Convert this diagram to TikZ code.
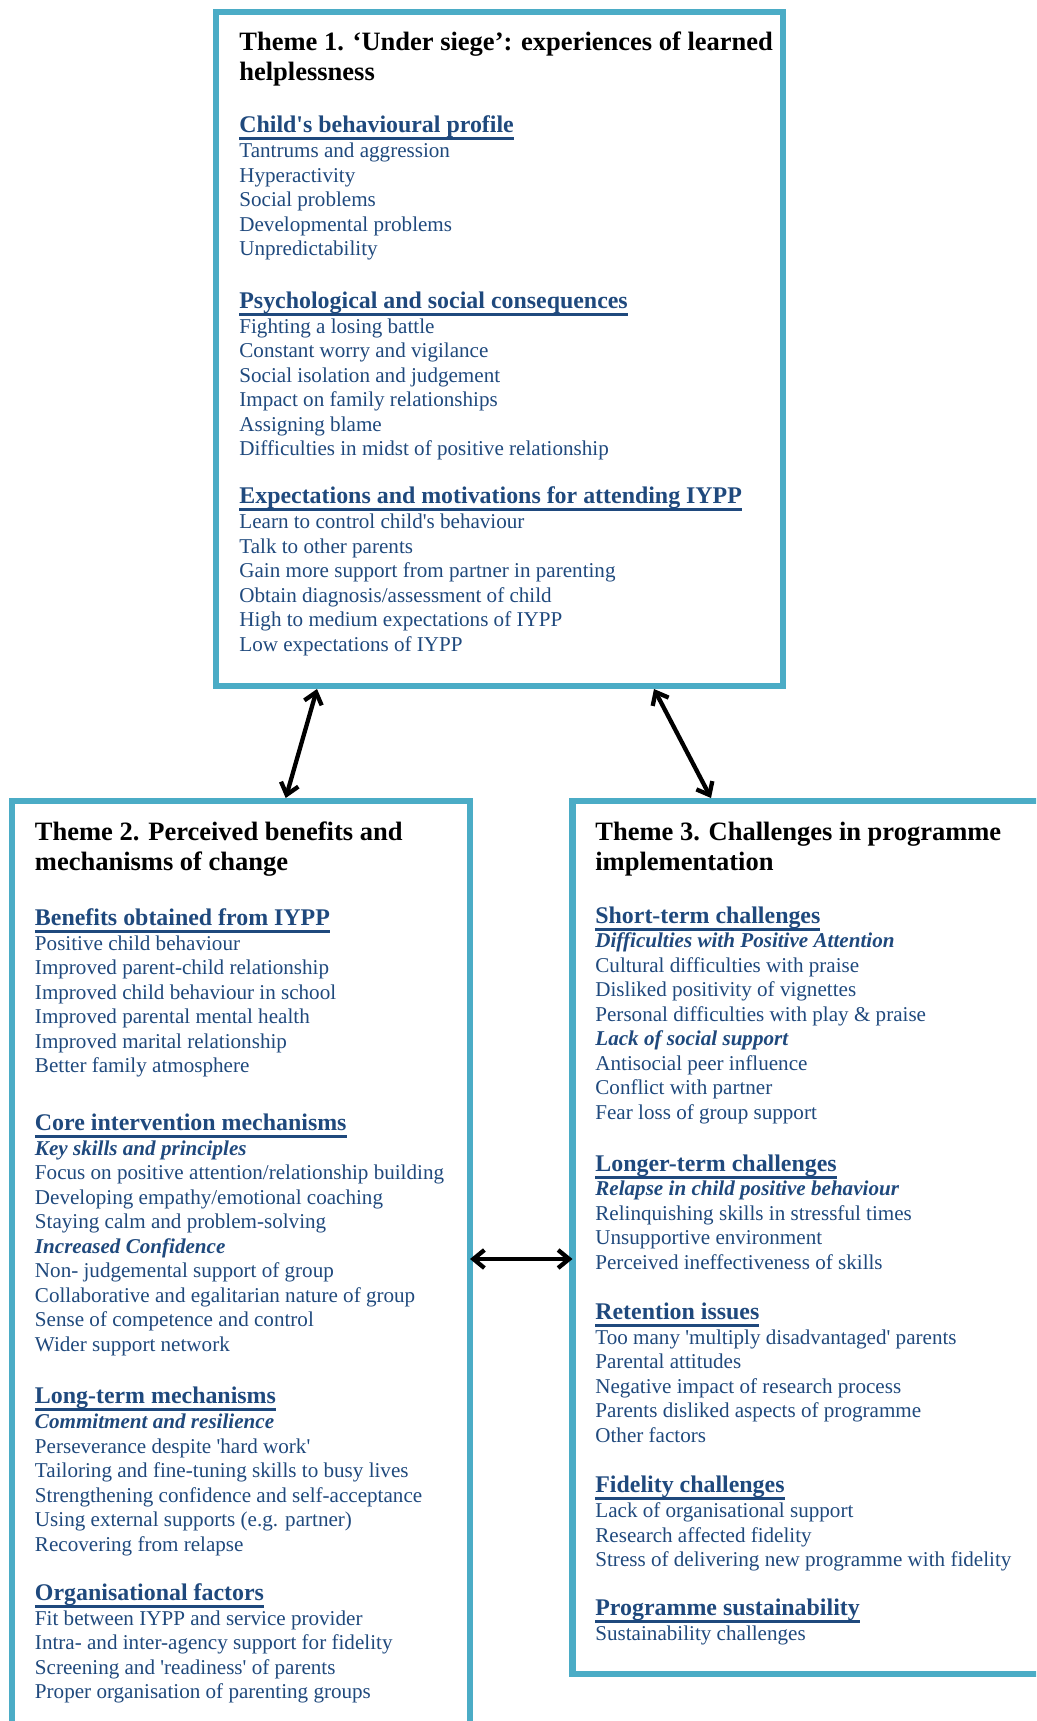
\documentclass[tikz,border=0pt]{standalone}
\usepackage{fontspec}
\setmainfont{Liberation Serif}[Ligatures=TeXOff]
\usetikzlibrary{arrows.meta}

\definecolor{boxteal}{RGB}{75,172,198}
\definecolor{itemblue}{RGB}{31,73,125}

\newsavebox{\ulbox}
\newcommand{\ulhead}[1]{\sbox{\ulbox}{\fontsize{23.9}{24.5}\selectfont\bfseries #1}\rlap{\rule[-7.5pt]{\wd\ulbox}{3pt}}\usebox{\ulbox}}
\newcommand{\bihead}[1]{\textbf{\textit{#1}}}

\tikzset{every picture/.style={line width=0.75pt}}
\tikzset{
  themebox/.style={draw=boxteal, line width=6.3pt, rectangle, anchor=north west, inner sep=0pt, outer sep=0pt},
  themetitle/.style={anchor=base west, inner sep=0pt, font=\fontsize{26.5}{30.7}\selectfont\bfseries},
  itemlist/.style={anchor=base west, inner sep=0pt, text=itemblue, font=\fontsize{21.1}{24.5}\selectfont},
  linkarrow/.style={{Straight Barb[length=11pt,width=18pt]}-{Straight Barb[length=11pt,width=18pt]}, line width=4.3pt}
}

\begin{document}
\begin{tikzpicture}[x=1pt,y=1pt,yscale=-1,xscale=1]
\useasboundingbox (0,0) rectangle (1036,1721);
\clip (0,0) rectangle (1036,1721);

%Shape: Rectangle 
\node [themebox, minimum width=567, minimum height=674] (theme1) at (216,12) {};
%Shape: Rectangle 
\node [themebox, minimum width=458.3, minimum height=1000] (theme2) at (11.7,801) {};
%Shape: Rectangle 
\node [themebox, minimum width=600, minimum height=873] (theme3) at (572.5,801) {};

%Straight Lines 
\draw [linkarrow] ([shift={(101,3)}]theme1.south west) -- ([shift={(274,-3)}]theme2.north west);
%Straight Lines 
\draw [linkarrow] ([shift={(438,3)}]theme1.south west) -- ([shift={(138.5,-3)}]theme3.north west);
%Straight Lines 
\draw [linkarrow] ([shift={(0,458)}]theme2.north east) -- ([shift={(0,458)}]theme3.north west);

% Text Node
\node [themetitle] (t1title) at (239,50) {\begin{tabular}[t]{@{}l@{}}Theme 1. ‘Under siege’: experiences of learned\\helplessness\end{tabular}};
% Text Node
\node [itemlist] (t1a) at (239,132.8) {\begin{tabular}[t]{@{}l@{}}\ulhead{Child's behavioural profile}\\[0.4pt]
Tantrums and aggression\\Hyperactivity\\Social problems\\Developmental problems\\Unpredictability\end{tabular}};
% Text Node
\node [itemlist] (t1b) at (239,308.3) {\begin{tabular}[t]{@{}l@{}}\ulhead{Psychological and social consequences}\\[0.4pt]
Fighting a losing battle\\Constant worry and vigilance\\Social isolation and judgement\\Impact on family relationships\\Assigning blame\\Difficulties in midst of positive relationship\end{tabular}};
% Text Node
\node [itemlist] (t1c) at (239,503.8) {\begin{tabular}[t]{@{}l@{}}\ulhead{Expectations and motivations for attending IYPP}\\[0.4pt]
Learn to control child's behaviour\\Talk to other parents\\Gain more support from partner in parenting\\Obtain diagnosis/assessment of child\\High to medium expectations of IYPP\\Low expectations of IYPP\end{tabular}};

% Text Node
\node [themetitle] (t2title) at (34.6,840.1) {\begin{tabular}[t]{@{}l@{}}Theme 2. Perceived benefits and\\mechanisms of change\end{tabular}};
% Text Node
\node [itemlist] (t2a) at (34.6,925.3) {\begin{tabular}[t]{@{}l@{}}\ulhead{Benefits obtained from IYPP}\\[0.4pt]
Positive child behaviour\\Improved parent-child relationship\\Improved child behaviour in school\\Improved parental mental health\\Improved marital relationship\\Better family atmosphere\end{tabular}};
% Text Node
\node [itemlist] (t2b) at (34.6,1130.3) {\begin{tabular}[t]{@{}l@{}}\ulhead{Core intervention mechanisms}\\[0.4pt]
\bihead{Key skills and principles}\\Focus on positive attention/relationship building\\Developing empathy/emotional coaching\\Staying calm and problem-solving\\\bihead{Increased Confidence}\\Non- judgemental support of group\\Collaborative and egalitarian nature of group\\Sense of competence and control\\Wider support network\end{tabular}};
% Text Node
\node [itemlist] (t2c) at (34.6,1403.8) {\begin{tabular}[t]{@{}l@{}}\ulhead{Long-term mechanisms}\\[0.4pt]
\bihead{Commitment and resilience}\\Perseverance despite 'hard work'\\Tailoring and fine-tuning skills to busy lives\\Strengthening confidence and self-acceptance\\Using external supports (e.g. partner)\\Recovering from relapse\end{tabular}};
% Text Node
\node [itemlist] (t2d) at (34.6,1600.3) {\begin{tabular}[t]{@{}l@{}}\ulhead{Organisational factors}\\[0.4pt]
Fit between IYPP and service provider\\Intra- and inter-agency support for fidelity\\Screening and 'readiness' of parents\\Proper organisation of parenting groups\end{tabular}};

% Text Node
\node [themetitle] (t3title) at (595,840.1) {\begin{tabular}[t]{@{}l@{}}Theme 3. Challenges in programme\\implementation\end{tabular}};
% Text Node
\node [itemlist] (t3a) at (595,923) {\begin{tabular}[t]{@{}l@{}}\ulhead{Short-term challenges}\\[0.4pt]
\bihead{Difficulties with Positive Attention}\\Cultural difficulties with praise\\Disliked positivity of vignettes\\Personal difficulties with play \& praise\\\bihead{Lack of social support}\\Antisocial peer influence\\Conflict with partner\\Fear loss of group support\end{tabular}};
% Text Node
\node [itemlist] (t3b) at (595,1171) {\begin{tabular}[t]{@{}l@{}}\ulhead{Longer-term challenges}\\[0.4pt]
\bihead{Relapse in child positive behaviour}\\Relinquishing skills in stressful times\\Unsupportive environment\\Perceived ineffectiveness of skills\end{tabular}};
% Text Node
\node [itemlist] (t3c) at (595,1319.3) {\begin{tabular}[t]{@{}l@{}}\ulhead{Retention issues}\\[0.4pt]
Too many 'multiply disadvantaged' parents\\Parental attitudes\\Negative impact of research process\\Parents disliked aspects of programme\\Other factors\end{tabular}};
% Text Node
\node [itemlist] (t3d) at (595,1492.6) {\begin{tabular}[t]{@{}l@{}}\ulhead{Fidelity challenges}\\[0.4pt]
Lack of organisational support\\Research affected fidelity\\Stress of delivering new programme with fidelity\end{tabular}};
% Text Node
\node [itemlist] (t3e) at (595,1615.5) {\begin{tabular}[t]{@{}l@{}}\ulhead{Programme sustainability}\\[0.4pt]
Sustainability challenges\end{tabular}};

\end{tikzpicture}
\end{document}
